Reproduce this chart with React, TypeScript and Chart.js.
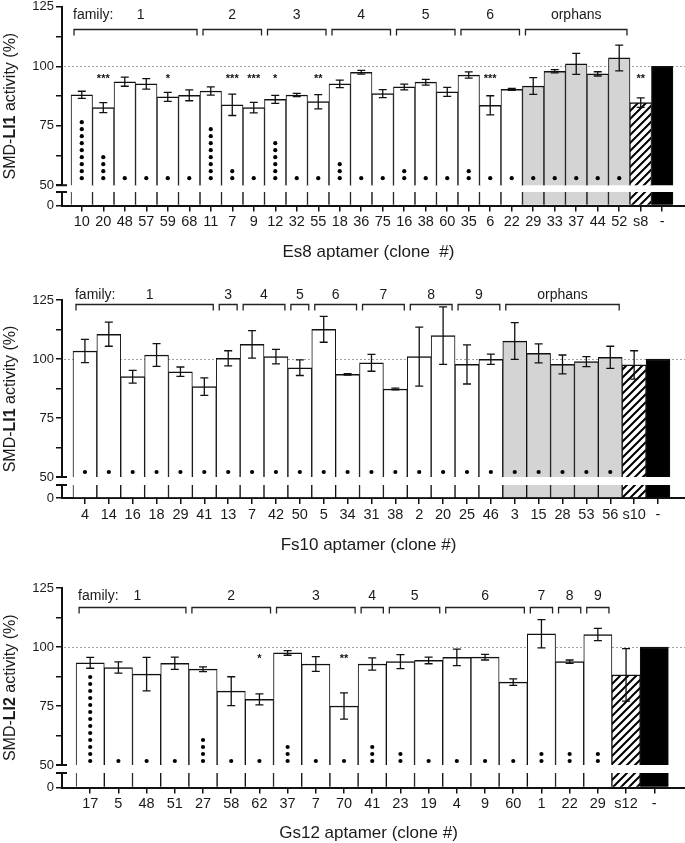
import React, { useEffect, useRef } from 'react';
import { Chart, registerables } from 'chart.js';

Chart.register(...registerables);

const FONT = '"Liberation Sans", Arial, Helvetica, sans-serif';

// ---------- Panel 1: Es8 ----------
const esLabels = ['10', '20', '48', '57', '59', '68', '11', '7', '9', '12', '32', '55', '18', '36', '75', '16', '38', '60', '35', '6', '22', '29', '33', '37', '44', '52', 's8', '-'];
const esValues = [88, 82.6, 93.5, 92.6, 87.1, 87.8, 89.6, 83.8, 82.6, 86.1, 87.9, 85.1, 92.6, 97.5, 88.5, 91.3, 93.3, 89.2, 96.3, 83.6, 90.3, 91.7, 97.9, 101, 96.8, 103.5, 84.7, 100];
const esErrors = [1.5, 2.1, 1.9, 2.2, 1.9, 2.3, 1.7, 4.5, 2.2, 1.7, 0.7, 3, 1.6, 0.8, 1.7, 1.2, 1.2, 1.9, 1.3, 4, 0.4, 3.5, 0.7, 4.4, 0.9, 5.4, 2, 0];
const esDots = [9, 4, 1, 1, 1, 1, 8, 2, 1, 6, 1, 1, 3, 1, 1, 2, 1, 1, 2, 1, 1, 1, 1, 1, 1, 1, 0, 0];
const esStars = ['', '***', '', '', '*', '', '', '***', '***', '*', '', '**', '', '', '', '', '', '', '', '***', '', '', '', '', '', '', '**', ''];
const esFamilyNames = ['1', '2', '3', '4', '5', '6', 'orphans'];
const esFamilyStart = [0, 6, 9, 12, 15, 18, 21];
const esFamilyEnd = [5, 8, 11, 14, 17, 20, 25];

// ---------- Panel 2: Fs10 ----------
const fsLabels = ['4', '14', '16', '18', '29', '41', '13', '7', '42', '50', '5', '34', '31', '38', '2', '20', '25', '46', '3', '15', '28', '53', '56', 's10', '-'];
const fsValues = [103.4, 110.5, 92.5, 101.7, 94.6, 88.3, 100.3, 106.2, 101, 96.3, 112.6, 93.5, 98.4, 87.3, 101, 109.9, 97.7, 99.9, 107.6, 102.4, 97.7, 98.9, 100.7, 97.5, 100];
const fsErrors = [4.9, 5.1, 2.7, 4.8, 2, 3.7, 3.2, 5.8, 3.1, 3.3, 5.5, 0.3, 3.6, 0.4, 12.5, 12.2, 8.3, 2.2, 7.8, 4, 4, 2.1, 4.7, 6, 0];
const fsDots = [1, 1, 1, 1, 1, 1, 1, 1, 1, 1, 1, 1, 1, 1, 1, 1, 1, 1, 1, 1, 1, 1, 1, 0, 0];
const fsStars = fsLabels.map(() => '');
const fsFamilyNames = ['1', '3', '4', '5', '6', '7', '8', '9', 'orphans'];
const fsFamilyStart = [0, 6, 7, 9, 10, 12, 14, 16, 18];
const fsFamilyEnd = [5, 6, 8, 9, 11, 13, 15, 17, 22];

// ---------- Panel 3: Gs12 ----------
const gsLabels = ['17', '5', '48', '51', '27', '58', '62', '37', '7', '70', '41', '23', '19', '4', '9', '60', '1', '22', '29', 's12', '-'];
const gsValues = [93.3, 91.3, 88.5, 93.1, 90.6, 81.3, 77.8, 97.5, 92.8, 75, 92.8, 93.8, 94.3, 95.6, 95.7, 85.1, 105.6, 93.8, 105.3, 88.2, 100];
const gsErrors = [2.3, 2.4, 7.1, 2.6, 1, 6.1, 2.3, 1, 3.1, 5.6, 2.6, 3, 1.4, 3.5, 1.2, 1.4, 6, 0.7, 2.6, 11.1, 0];
const gsDots = [13, 1, 1, 1, 4, 1, 1, 3, 1, 1, 3, 2, 1, 1, 1, 1, 2, 2, 2, 0, 0];
const gsStars = ['', '', '', '', '', '', '*', '', '', '**', '', '', '', '', '', '', '', '', '', '', ''];
const gsFamilyNames = ['1', '2', '3', '4', '5', '6', '7', '8', '9'];
const gsFamilyStart = [0, 4, 7, 10, 11, 13, 16, 17, 18];
const gsFamilyEnd = [3, 6, 9, 10, 12, 15, 16, 17, 18];

// y-axis ticks
const yTickValues = [50, 62.5, 75, 87.5, 100, 112.5, 125];

type Spec = {
  labels: string[]; values: number[]; errors: number[]; dots: number[]; stars: string[];
  famNames: string[]; famStart: number[]; famEnd: number[];
  target: string; xTitle: string;
};

type Layout = {
  top: number; height: number; padTop: number; xAxisH: number;
  upperH: number; lowerH: number; gap: number; padL: number; padR: number;
  bracketVal: number; labelVal: number; dotOffset: number; titleY: number;
};

const specs: Spec[] = [
  { labels: esLabels, values: esValues, errors: esErrors, dots: esDots, stars: esStars, famNames: esFamilyNames, famStart: esFamilyStart, famEnd: esFamilyEnd, target: 'LI1', xTitle: 'Es8 aptamer (clone  #)' },
  { labels: fsLabels, values: fsValues, errors: fsErrors, dots: fsDots, stars: fsStars, famNames: fsFamilyNames, famStart: fsFamilyStart, famEnd: fsFamilyEnd, target: 'LI1', xTitle: 'Fs10 aptamer (clone #)' },
  { labels: gsLabels, values: gsValues, errors: gsErrors, dots: gsDots, stars: gsStars, famNames: gsFamilyNames, famStart: gsFamilyStart, famEnd: gsFamilyEnd, target: 'LI2', xTitle: 'Gs12 aptamer (clone #)' },
];

const layouts: Layout[] = [
  { top: -3, height: 283, padTop: 8, xAxisH: 74.5, upperH: 180, lowerH: 20.5, gap: 7, padL: 0.42, padR: 0.56, bracketVal: 115.8, labelVal: 121.3, dotOffset: 7, titleY: 252 },
  { top: 280, height: 280, padTop: 20, xAxisH: 62, upperH: 177, lowerH: 21, gap: 8, padL: 0.46, padR: 0.63, bracketVal: 123.3, labelVal: 127.1, dotOffset: 5, titleY: 545 },
  { top: 560, height: 283, padTop: 28, xAxisH: 55.5, upperH: 177, lowerH: 22.5, gap: 8, padL: 0.5, padR: 0.59, bracketVal: 116.9, labelVal: 121.4, dotOffset: 4, titleY: 833 },
];

function makeHatch(ctx: CanvasRenderingContext2D) {
  const c = document.createElement('canvas');
  c.width = 8; c.height = 8;
  const g = c.getContext('2d')!;
  g.fillStyle = '#fff';
  g.fillRect(0, 0, 8, 8);
  g.strokeStyle = '#000';
  g.lineWidth = 2;
  g.beginPath();
  g.moveTo(-2, 10); g.lineTo(10, -2);
  g.moveTo(-2, 2); g.lineTo(2, -2);
  g.moveTo(6, 10); g.lineTo(10, 6);
  g.stroke();
  return ctx.createPattern(c, 'repeat');
}

function buildConfig(p: Spec, L: Layout, canvas: HTMLCanvasElement): any {
  const n = p.labels.length;
  const lowerMax = 50 * L.lowerH / (L.lowerH - L.gap);
  const ctx = canvas.getContext('2d')!;
  const hatch = makeHatch(ctx);
  const orphanIdx = p.famNames.indexOf('orphans');
  const fills = p.labels.map((lab, i) => {
    if (lab === '-') return '#000';
    if (lab.startsWith('s')) return hatch;
    if (orphanIdx >= 0 && i >= p.famStart[orphanIdx] && i <= p.famEnd[orphanIdx]) return '#d4d4d4';
    return '#fff';
  });
  const tickFont = { family: FONT, size: 13 };

  const annot = {
    id: 'annot',
    beforeDatasetsDraw(chart: any) {
      const { ctx, chartArea: a, scales } = chart;
      const py = Math.round(scales.y.getPixelForValue(100)) + 0.5;
      ctx.save();
      ctx.strokeStyle = '#a0a0a0';
      ctx.lineWidth = 1;
      ctx.setLineDash([2, 2]);
      ctx.beginPath();
      ctx.moveTo(a.left + 2, py);
      ctx.lineTo(a.right, py);
      ctx.stroke();
      ctx.restore();
    },
    afterDatasetsDraw(chart: any) {
      const { ctx, scales } = chart;
      const xs = scales.x, y = scales.y;
      ctx.save();
      // error bars
      ctx.strokeStyle = '#111';
      ctx.lineWidth = 1.3;
      p.values.forEach((v, i) => {
        const e = p.errors[i];
        if (!e) return;
        const x = xs.getPixelForValue(i);
        const t = y.getPixelForValue(v + e);
        const b = y.getPixelForValue(v - e);
        ctx.beginPath();
        ctx.moveTo(x, t); ctx.lineTo(x, b);
        ctx.moveTo(x - 4, t); ctx.lineTo(x + 4, t);
        ctx.moveTo(x - 4, b); ctx.lineTo(x + 4, b);
        ctx.stroke();
      });
      // dots
      ctx.fillStyle = '#000';
      const base = y.getPixelForValue(50) - L.dotOffset;
      p.dots.forEach((c, i) => {
        const x = xs.getPixelForValue(i);
        for (let k = 0; k < c; k++) {
          ctx.beginPath();
          ctx.arc(x, base - k * 7, 2.1, 0, Math.PI * 2);
          ctx.fill();
        }
      });
      // significance stars
      ctx.font = `bold 11px ${FONT}`;
      ctx.textAlign = 'center';
      ctx.textBaseline = 'alphabetic';
      ctx.fillStyle = '#111';
      p.stars.forEach((s, i) => {
        if (!s) return;
        ctx.fillText(s, xs.getPixelForValue(i), y.getPixelForValue(96) + 6);
      });
      ctx.restore();
    },
    afterDraw(chart: any) {
      const { ctx, chartArea: a, scales } = chart;
      const xs = scales.x, y = scales.y, y0 = scales.y0;
      ctx.save();
      ctx.strokeStyle = '#111';
      ctx.lineWidth = 2;
      // axis break
      const p50 = y.getPixelForValue(50);
      const l50 = y0.getPixelForValue(50);
      const l0 = y0.getPixelForValue(0);
      ctx.beginPath();
      ctx.moveTo(a.left - 6, p50); ctx.lineTo(a.left + 5, p50);
      ctx.moveTo(a.left - 6, l50); ctx.lineTo(a.left + 5, l50);
      ctx.moveTo(a.left, l50); ctx.lineTo(a.left, l0);
      ctx.stroke();
      // family brackets
      ctx.lineWidth = 1.3;
      ctx.strokeStyle = '#222';
      ctx.fillStyle = '#1a1a1a';
      ctx.font = `14px ${FONT}`;
      ctx.textBaseline = 'middle';
      const yb = Math.round(y.getPixelForValue(L.bracketVal)) + 0.5;
      const yl = y.getPixelForValue(L.labelVal);
      p.famNames.forEach((name, k) => {
        const x1 = xs.getPixelForValue(p.famStart[k] - 0.5) + 3;
        const x2 = xs.getPixelForValue(p.famEnd[k] + 0.5) - 3;
        ctx.beginPath();
        ctx.moveTo(x1, yb + 6); ctx.lineTo(x1, yb); ctx.lineTo(x2, yb); ctx.lineTo(x2, yb + 6);
        ctx.stroke();
        ctx.textAlign = 'center';
        ctx.fillText(name, (x1 + x2) / 2 + (k === 0 ? 5 : 0), yl);
        if (k === 0) {
          ctx.textAlign = 'left';
          ctx.fillText('family:', x1 - 1, yl);
        }
      });
      // y title with bold target
      const parts: [string, string][] = [['SMD-', ''], [p.target, 'bold '], [' activity (%)', '']];
      let total = 0;
      parts.forEach(([t, w]) => { ctx.font = `${w}16px ${FONT}`; total += ctx.measureText(t).width; });
      ctx.save();
      ctx.translate(11, (a.top + l0) / 2);
      ctx.rotate(-Math.PI / 2);
      ctx.textAlign = 'left';
      ctx.textBaseline = 'middle';
      let cx = -total / 2;
      parts.forEach(([t, w]) => {
        ctx.font = `${w}16px ${FONT}`;
        ctx.fillText(t, cx, 0);
        cx += ctx.measureText(t).width;
      });
      ctx.restore();
      // x title
      ctx.font = `17px ${FONT}`;
      ctx.textAlign = 'center';
      ctx.textBaseline = 'middle';
      ctx.fillText(p.xTitle, (a.left + a.right) / 2 - 5, L.titleY - L.top);
      ctx.restore();
    },
  };

  const common = {
    backgroundColor: fills,
    borderColor: '#111',
    borderSkipped: false,
    grouped: false,
    barPercentage: 1,
    categoryPercentage: 1,
  };

  return {
    type: 'bar',
    data: {
      datasets: [
        { ...common, yAxisID: 'y', data: p.values.map((v, i) => ({ x: i, y: v })), borderWidth: { top: 1.5, left: 1, right: 1, bottom: 0 } },
        { ...common, yAxisID: 'y0', data: p.values.map((v, i) => ({ x: i, y: Math.min(v, 50) })), borderWidth: { top: 0, left: 1, right: 1, bottom: 0 } },
      ],
    },
    options: {
      animation: false,
      responsive: false,
      events: [],
      layout: { padding: { top: L.padTop, right: 0, bottom: 0, left: 0 } },
      plugins: { legend: { display: false }, tooltip: { enabled: false } },
      scales: {
        x: {
          type: 'linear',
          bounds: 'data',
          offset: false,
          min: -0.5 - L.padL,
          max: n - 0.5 + L.padR,
          z: 1,
          afterBuildTicks: (s: any) => { s.ticks = p.labels.map((_, i) => ({ value: i })); },
          afterFit: (s: any) => { s.height = L.xAxisH; },
          ticks: { autoSkip: false, maxRotation: 0, minRotation: 0, padding: 2, color: '#1a1a1a', font: { family: FONT, size: 14.5 }, callback: (v: number) => p.labels[v] ?? '' },
          grid: { offset: false, drawOnChartArea: false, drawTicks: true, tickLength: 6, color: '#111', lineWidth: 1.5 },
          border: { display: true, color: '#111', width: 2 },
        },
        y0: {
          type: 'linear', position: 'left', stack: 'v', stackWeight: L.lowerH, weight: 1,
          bounds: 'data',
          min: 0, max: lowerMax,
          afterBuildTicks: (s: any) => { s.ticks = [{ value: 0 }]; },
          afterFit: (s: any) => { s.width = 62; },
          ticks: { padding: 2, color: '#1a1a1a', font: tickFont, callback: () => '0' },
          grid: { drawOnChartArea: false, drawTicks: true, tickLength: 6, color: '#111', lineWidth: 1.5 },
          border: { display: false },
        },
        y: {
          type: 'linear', position: 'left', stack: 'v', stackWeight: L.upperH, weight: 2,
          bounds: 'data',
          min: 50, max: 125,
          afterBuildTicks: (s: any) => { s.ticks = yTickValues.map((v) => ({ value: v })); },
          afterFit: (s: any) => { s.width = 62; },
          ticks: { padding: 2, color: '#1a1a1a', font: tickFont, callback: (v: number) => (v % 25 === 0 ? String(v) : '') },
          grid: { drawOnChartArea: false, drawTicks: true, tickLength: 6, color: '#111', lineWidth: 1.5 },
          border: { display: true, color: '#111', width: 2 },
        },
      },
    },
    plugins: [annot],
  };
}

function Panel({ spec, layout }: { spec: Spec; layout: Layout }) {
  const ref = useRef<HTMLCanvasElement>(null);
  useEffect(() => {
    const canvas = ref.current!;
    const chart = new Chart(canvas, buildConfig(spec, layout, canvas));
    return () => chart.destroy();
  }, [spec, layout]);
  return (
    <canvas
      ref={ref}
      width={685}
      height={layout.height}
      style={{ position: 'absolute', left: 0, top: layout.top, width: 685, height: layout.height }}
    />
  );
}

export default function App() {
  return (
    <div style={{ position: 'absolute', left: 0, top: 0, width: 685, height: 843, background: '#fff', overflow: 'hidden' }}>
      {specs.map((s, i) => (
        <Panel key={i} spec={s} layout={layouts[i]} />
      ))}
    </div>
  );
}
